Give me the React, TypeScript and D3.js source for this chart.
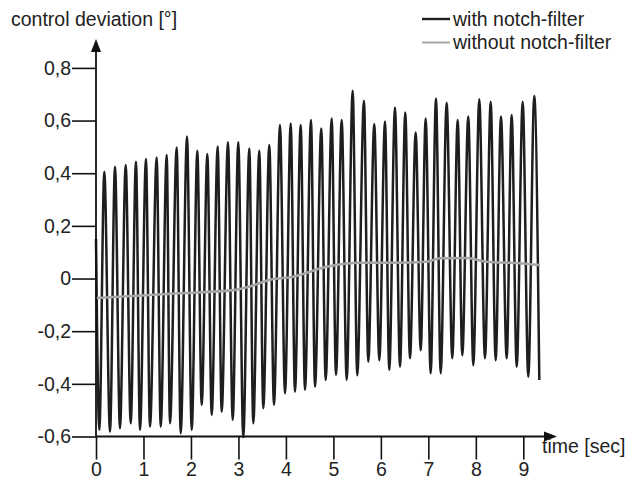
import React, { useRef, useEffect } from "react";
import { select, scaleLinear, line, curveMonotoneX, axisLeft, axisBottom } from "d3";

// black curve: start, then alternating troughs / peaks
const startTime = 0;
const startValue = 0.15;

const troughTimes = [
  0.07, 0.295, 0.505, 0.731, 0.927, 1.137, 1.363, 1.559, 1.784, 2.016, 2.226, 2.437, 2.647, 2.879,
  3.102, 3.313, 3.524, 3.749, 3.981, 4.191, 4.402, 4.613, 4.838, 5.055, 5.28, 5.503, 5.735, 5.967,
  6.177, 6.403, 6.613, 6.839, 7.049, 7.26, 7.504, 7.715, 7.947, 8.193, 8.418, 8.65, 8.861, 9.105, 9.337
];
const troughValues = [
  -0.575, -0.582, -0.569, -0.55, -0.575, -0.563, -0.563, -0.55, -0.588, -0.575, -0.48, -0.518, -0.506,
  -0.537, -0.602, -0.55, -0.493, -0.48, -0.436, -0.43, -0.423, -0.411, -0.385, -0.366, -0.385, -0.367,
  -0.316, -0.31, -0.347, -0.335, -0.303, -0.272, -0.36, -0.36, -0.303, -0.291, -0.329, -0.303, -0.31,
  -0.303, -0.335, -0.373, -0.385
];

const peakTimes = [
  0.175, 0.4, 0.626, 0.842, 1.053, 1.278, 1.489, 1.7, 1.917, 2.134, 2.345, 2.563, 2.78, 2.997, 3.229,
  3.439, 3.65, 3.875, 4.101, 4.311, 4.528, 4.745, 4.964, 5.175, 5.406, 5.644, 5.861, 6.087, 6.297,
  6.514, 6.733, 6.944, 7.161, 7.386, 7.618, 7.841, 8.073, 8.313, 8.53, 8.755, 8.987, 9.231
];
const peakValues = [
  0.406, 0.425, 0.431, 0.444, 0.454, 0.46, 0.469, 0.498, 0.539, 0.485, 0.473, 0.501, 0.518, 0.518,
  0.494, 0.485, 0.507, 0.583, 0.589, 0.583, 0.602, 0.57, 0.608, 0.602, 0.713, 0.675, 0.587, 0.596,
  0.65, 0.631, 0.555, 0.608, 0.684, 0.668, 0.602, 0.615, 0.681, 0.671, 0.615, 0.621, 0.671, 0.693
];

// gray curve (without notch-filter)
const grayTimes = [0, 1.769, 2.885, 3.243, 3.665, 4.149, 4.859, 5.56, 6.255, 6.965, 7.245, 7.807, 8.229, 8.93, 9.351];
const grayValues = [-0.074, -0.056, -0.044, -0.03, -0.005, 0.007, 0.045, 0.06, 0.06, 0.064, 0.077, 0.078, 0.064, 0.058, 0.051];

const xTicks = [0, 1, 2, 3, 4, 5, 6, 7, 8, 9];
const yTicks = [0.8, 0.6, 0.4, 0.2, 0, -0.2, -0.4, -0.6];

const legendLabels = ["with notch-filter", "without notch-filter"];
const yTitle = "control deviation [°]";
const xTitle = "time [sec]";

const FONT = "'Liberation Sans', Arial, Helvetica, sans-serif";

const App = () => {
  const svgRef = useRef(null);

  useEffect(() => {
    const svg = select(svgRef.current);
    svg.selectAll("*").remove();

    const xScale = scaleLinear().domain([0, 9]).range([96, 523.3]);
    const yScale = scaleLinear().domain([-0.6, 0.8]).range([436.5, 67.9]);

    const black = [{ t: startTime, v: startValue }];
    troughTimes.forEach((t, i) => black.push({ t, v: troughValues[i] }));
    peakTimes.forEach((t, i) => black.push({ t, v: peakValues[i] }));
    black.sort((a, b) => a.t - b.t);
    const gray = grayTimes.map((t, i) => ({ t, v: grayValues[i] }));

    const lineGen = line()
      .x(d => xScale(d.t))
      .y(d => yScale(d.v))
      .curve(curveMonotoneX);

    svg.append("path")
      .datum(black)
      .attr("fill", "none")
      .attr("stroke", "#1e1e1e")
      .attr("stroke-width", 2.5)
      .attr("d", lineGen);

    svg.append("path")
      .datum(gray)
      .attr("fill", "none")
      .attr("stroke", "#a6a6a6")
      .attr("stroke-width", 2.6)
      .attr("d", lineGen);

    // axes
    const yAxis = axisLeft(yScale)
      .tickValues(yTicks)
      .tickSizeInner(24)
      .tickSizeOuter(0)
      .tickPadding(1)
      .tickFormat(d => String(d).replace(".", ","));
    const gy = svg.append("g").attr("transform", `translate(${xScale(0)},0)`).call(yAxis);

    const xAxis = axisBottom(xScale)
      .tickValues(xTicks)
      .tickSizeInner(23)
      .tickSizeOuter(0)
      .tickPadding(3);
    const gx = svg.append("g").attr("transform", `translate(0,${yScale(-0.6)})`).call(xAxis);

    [gx, gy].forEach(g => {
      g.select(".domain").remove();
      g.selectAll("line").attr("stroke", "#111").attr("stroke-width", 1.6);
      g.selectAll("text")
        .attr("fill", "#222")
        .style("font-family", FONT)
        .style("font-size", "19.5px");
    });

    // axis lines with arrows
    const x0 = xScale(0);
    const y0 = yScale(-0.6);
    svg.append("line")
      .attr("x1", x0).attr("x2", x0).attr("y1", y0).attr("y2", 48)
      .attr("stroke", "#111").attr("stroke-width", 1.8);
    svg.append("path")
      .attr("d", `M${x0},39 L${x0 - 5},52 L${x0 + 5},52 Z`)
      .attr("fill", "#111");
    svg.append("line")
      .attr("x1", x0).attr("x2", 548).attr("y1", y0).attr("y2", y0)
      .attr("stroke", "#111").attr("stroke-width", 1.8);
    svg.append("path")
      .attr("d", `M557,${y0} L544,${y0 - 5} L544,${y0 + 5} Z`)
      .attr("fill", "#111");

    // titles
    svg.append("text")
      .attr("x", 11).attr("y", 26)
      .attr("fill", "#222")
      .style("font-family", FONT).style("font-size", "19.5px")
      .text(yTitle);
    svg.append("text")
      .attr("x", 542).attr("y", 453)
      .attr("fill", "#222")
      .style("font-family", FONT).style("font-size", "19.5px")
      .text(xTitle);

    // legend
    const legendColors = ["#1e1e1e", "#a6a6a6"];
    const legendY = [19, 42.5];
    legendLabels.forEach((label, i) => {
      svg.append("line")
        .attr("x1", 422).attr("x2", 450)
        .attr("y1", legendY[i]).attr("y2", legendY[i])
        .attr("stroke", legendColors[i])
        .attr("stroke-width", i === 0 ? 2.4 : 2);
      svg.append("text")
        .attr("x", 453).attr("y", legendY[i] + 6.5)
        .attr("fill", "#222")
        .style("font-family", FONT).style("font-size", "19.5px")
        .text(label);
    });
  }, []);

  return (
    <svg
      ref={svgRef}
      width={628}
      height={481}
      style={{ position: "absolute", left: 0, top: 0, background: "#fff" }}
    />
  );
};

export default App;
